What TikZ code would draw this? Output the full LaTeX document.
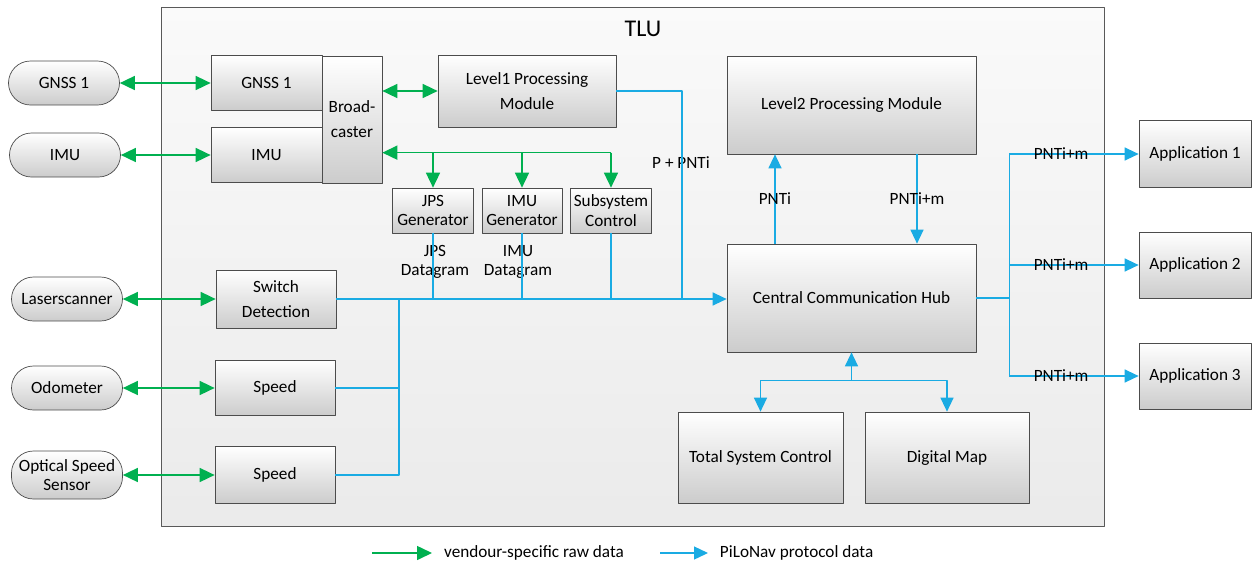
\documentclass[tikz,border=0pt]{standalone}
\usepackage{fontspec}
\setmainfont{Carlito}
\usetikzlibrary{arrows.meta}
\definecolor{grn}{HTML}{00B050}
\definecolor{blu}{HTML}{1AABE3}
\begin{document}
\begin{tikzpicture}[x=1pt, y=-1pt, font=\fontsize{17.2}{19.5}\selectfont, line join=round,
	box/.style={draw=black!70, line width=0.7pt, top color=white, bottom color=black!20, align=center, inner sep=2pt},
	ext/.style={box, rounded corners=22pt, minimum width=111pt, minimum height=44pt},
	spaced/.style={font=\fontsize{17.2}{25}\selectfont},
	gr/.style={grn, line width=1.6pt, >={Triangle[length=15pt,width=14pt]}},
	bl/.style={blu, line width=1.3pt, >={Triangle[length=14pt,width=13pt]}}]
	\useasboundingbox (0,0) rectangle (1253,566);
	\shade[top color=black!2, bottom color=black!8, draw=black!65, line width=0.7pt] (161,7) rectangle (1104,526);
	\node[font=\fontsize{24}{28}\selectfont] (tlu) at (643,29) {TLU};
	\node[ext] (gnssx) at (64,83) {GNSS 1};
	\node[ext] (imux) at (65,155) {IMU};
	\node[ext] (laser) at (67,299) {Laserscanner};
	\node[ext] (odo) at (67,388) {Odometer};
	\node[ext, minimum height=48pt] (oss) at (67,475) {Optical Speed\\Sensor};
	\node[box, minimum width=111pt, minimum height=55pt] (gnss) at (266.5,83) {GNSS 1};
	\node[box, minimum width=111pt, minimum height=55pt] (imu) at (266.5,155) {IMU};
	\node[box, spaced, minimum width=60pt, minimum height=127pt] (bcast) at (352,119.5) {Broad-\\caster};
	\node[box, spaced, minimum width=178pt, minimum height=72pt] (lvl1) at (527,91) {Level1 Processing\\Module};
	\node[box, minimum width=81pt, minimum height=45pt] (jps) at (433,210.5) {JPS\\Generator};
	\node[box, minimum width=80pt, minimum height=45pt] (imug) at (522,210.5) {IMU\\Generator};
	\node[box, minimum width=81pt, minimum height=45pt] (subc) at (611,210.5) {Subsystem\\Control};
	\node[box, spaced, minimum width=120pt, minimum height=58pt] (swd) at (276,299) {Switch\\Detection};
	\node[box, minimum width=120pt, minimum height=55pt] (spd1) at (275,388) {Speed};
	\node[box, minimum width=120pt, minimum height=57pt] (spd2) at (275,475) {Speed};
	\node[box, minimum width=249pt, minimum height=98pt] (lvl2) at (851.5,105) {Level2 Processing Module};
	\node[box, minimum width=249pt, minimum height=108pt] (hub) at (851.5,298) {Central Communication Hub};
	\node[box, minimum width=165pt, minimum height=91pt] (tsc) at (760.5,457.5) {Total System Control};
	\node[box, minimum width=164pt, minimum height=91pt] (dmap) at (947,457.5) {Digital Map};
	\node[box, minimum width=112pt, minimum height=67pt] (app1) at (1195,154) {Application 1};
	\node[box, minimum width=112pt, minimum height=66pt] (app2) at (1195,265) {Application 2};
	\node[box, minimum width=112pt, minimum height=66pt] (app3) at (1195,376) {Application 3};
	\node[align=center] (jpsd) at (435,262) {JPS\\Datagram};
	\node[align=center] (imud) at (518,262) {IMU\\Datagram};
	\node (pnt) at (681,163) {P + PNTi};
	\foreach \a/\b in {gnssx/gnss, imux/imu, laser/swd, odo/spd1, oss/spd2} \draw[gr,<->] (\a.east) -- (\b.west);
	\draw[gr,<->] (lvl1.west -| bcast.east) -- (lvl1.west);
	\draw[gr,->] (subc.north) ++(0,-35) coordinate (gs) -- (gs -| bcast.east);
	\foreach \n in {jps,imug,subc} \draw[gr,->] (gs -| \n.north) -- (\n.north);
	\coordinate (bj) at (399,299);
	\coordinate (pj) at (682,299);
	\draw[bl,->] (swd.east) -- (swd.east -| hub.west);
	\draw[bl] (spd2.east) -| (bj);
	\draw[bl] (spd1.east) -- (spd1.east -| bj);
	\foreach \n in {jps,imug,subc} \draw[bl] (\n.south) -- (\n.south |- swd.east);
	\draw[bl] (lvl1.east) -| (pj);
	\draw[bl,->] ([xshift=-76.5pt]hub.north) -- ([xshift=-76.5pt]lvl2.south) node[midway, black] {PNTi};
	\draw[bl,->] ([xshift=65.5pt]lvl2.south) -- ([xshift=65.5pt]hub.north) node[midway, black] {PNTi+m};
	\draw[bl] (hub.east) -- ++(33,0) coordinate (ho);
	\draw[bl] (ho |- app1) -- (ho |- app3);
	\foreach \a in {app1,app2,app3} \draw[bl,->] (ho |- \a) -- (\a.west) node[pos=0.4, black] {PNTi+m};
	\draw[bl,->] (hub.south) ++(0,28) coordinate (hb) -- (hub.south);
	\draw[bl,->] (hb) -| (tsc.north);
	\draw[bl,->] (hb) -| (dmap.north);
	\coordinate (lg) at (372,553);
	\coordinate (lb) at (660,553);
	\draw[gr,->] (lg) -- ++(60,0) node[right, xshift=8pt, black] {vendour-specific raw data};
	\draw[bl,->] (lb) -- ++(48,0) node[right, xshift=8pt, black] {PiLoNav protocol data};
\end{tikzpicture}
\end{document}
